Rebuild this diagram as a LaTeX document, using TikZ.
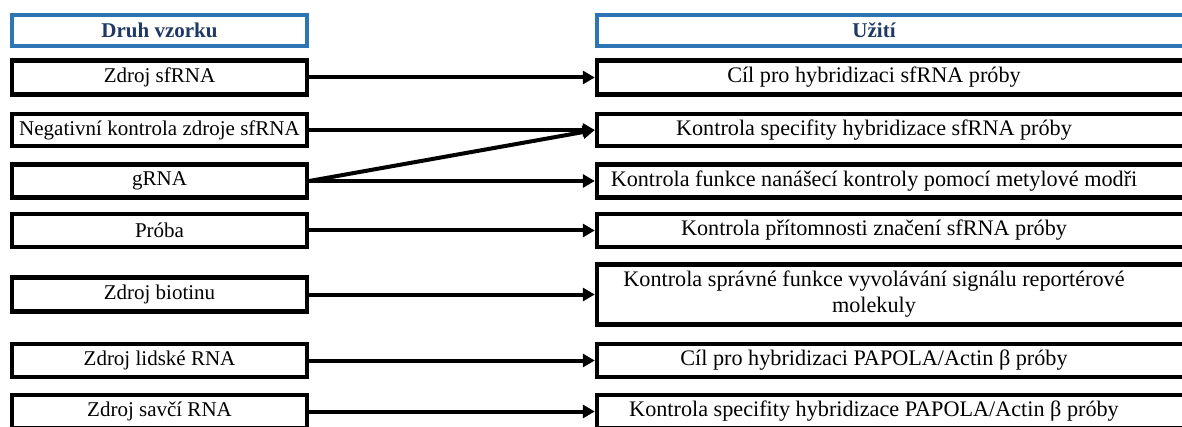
\documentclass[tikz,border=0pt]{standalone}
\usepackage{fontspec}
\setmainfont{Liberation Serif}
\usetikzlibrary{arrows.meta}
\definecolor{headblue}{HTML}{2E75B6}
\definecolor{headtext}{HTML}{1F3864}
% text of the right column sits a little left of the box middle
\newcommand{\usetext}[1]{\parbox{277pt}{\centering #1}\hspace*{19pt}}
\begin{document}
\begin{tikzpicture}[x=0.5pt, y=-0.5pt,
    box/.style={draw, line width=2.2pt, inner sep=0pt, align=center},
    lbox/.style={box, minimum width=147.5pt, minimum height=17pt, font=\fontsize{10.5}{13}\selectfont},
    rbox/.style={box, minimum width=296pt, minimum height=17pt, font=\fontsize{11.1}{13}\selectfont},
    head/.style={draw=headblue, line width=2.2pt, inner sep=0pt, minimum height=15.5pt, text=headtext, font=\fontsize{10.5}{13}\selectfont\bfseries},
    arrow/.style={-{Triangle[length=6pt,width=6.5pt]}, line width=2pt}
]
    \useasboundingbox (0,0) rectangle (1182,427);

    \node[head, minimum width=147.5pt] (druh) at (159.5,30.5) {Druh vzorku};
    \node[head, minimum width=296pt] (uziti) at (893,30.5) {\usetext{Užití}};

    \node[lbox] (sfrna) at (159.5,77.5) {Zdroj sfRNA};
    \node[lbox, minimum height=16pt] (negativni) at (159.5,130) {Negativní kontrola zdroje sfRNA};
    \node[lbox, minimum height=16.5pt] (grna) at (159.5,181) {gRNA};
    \node[lbox, minimum height=16.5pt] (proba) at (159.5,230.5) {Próba};
    \node[lbox] (biotin) at (159.5,294.5) {Zdroj biotinu};
    \node[lbox, minimum height=16.5pt] (lidska) at (159.5,360.5) {Zdroj lidské RNA};
    \node[lbox, minimum height=16.5pt] (savci) at (159.5,411.5) {Zdroj savčí RNA};

    \node[rbox] (cilsf) at (893,77.5) {\usetext{Cíl pro hybridizaci sfRNA próby}};
    \node[rbox, minimum height=16pt] (specsf) at (893,130) {\usetext{Kontrola specifity hybridizace sfRNA próby}};
    \node[rbox, minimum height=16.5pt] (funkce) at (893,181) {\usetext{Kontrola funkce nanášecí kontroly pomocí metylové modři}};
    \node[rbox, minimum height=16.5pt] (znaceni) at (893,230.5) {\usetext{Kontrola přítomnosti značení sfRNA próby}};
    \node[rbox, minimum height=30pt] (signal) at (893,294.5) {\usetext{Kontrola správné funkce vyvolávání signálu reportérové\\molekuly}};
    \node[rbox, minimum height=16.5pt] (cilpap) at (893,360.5) {\usetext{Cíl pro hybridizaci PAPOLA/Actin β próby}};
    \node[rbox, minimum height=16.5pt] (specpap) at (893,411.5) {\usetext{Kontrola specifity hybridizace PAPOLA/Actin β próby}};

    \draw[arrow] (sfrna) -- (cilsf);
    \draw[arrow] (negativni) -- (specsf);
    \draw[arrow] (grna.east) -- (specsf.west);
    \draw[arrow] (grna) -- (funkce);
    \draw[arrow] (proba) -- (znaceni);
    \draw[arrow] (biotin) -- (signal);
    \draw[arrow] (lidska) -- (cilpap);
    \draw[arrow] (savci) -- (specpap);
\end{tikzpicture}
\end{document}
